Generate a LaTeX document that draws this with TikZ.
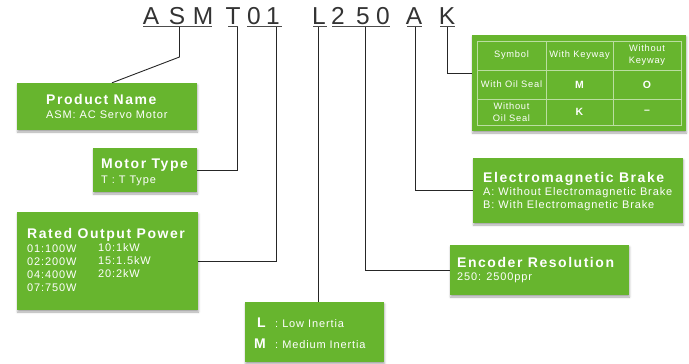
\documentclass[tikz,border=0pt]{standalone}
\usepackage{fontspec}
\setmainfont{Liberation Sans}
\newfontfamily\titlefont[LetterSpace=11]{Liberation Sans}
\newfontfamily\subfont[LetterSpace=8]{Liberation Sans}
\usetikzlibrary{shadows.blur}
\definecolor{boxgreen}{RGB}{103,181,46}
\tikzset{
  gbox/.style={fill=boxgreen, inner sep=0pt,
    blur shadow={shadow xshift=0.5pt, shadow yshift=-2pt, shadow blur radius=2pt, shadow opacity=35}},
  ttl/.style={text=white, anchor=base west, inner sep=0pt, font=\titlefont\bfseries\fontsize{14}{16}\selectfont},
  sub/.style={text=white, anchor=base west, inner sep=0pt, font=\subfont\fontsize{11}{12}\selectfont},
  code/.style={anchor=base, inner sep=0pt, text=black!80, font=\fontsize{24.5}{26}\selectfont},
  conn/.style={line width=0.9pt, black!85},
  uline/.style={line width=1.2pt, black!70},
  cell/.style={text=white, inner sep=0pt, align=center, font=\subfont\fontsize{9.3}{12}\selectfont},
  mark cell/.style={text=white, inner sep=0pt, font=\bfseries\fontsize{10.5}{12}\selectfont},
  tgrid/.style={white!55!boxgreen, line width=0.7pt}
}
\begin{document}
\begin{tikzpicture}[x=1pt,y=-1pt]
\useasboundingbox (0,0) rectangle (689,364);

% model code
\foreach \ch/\px [count=\i] in {A/151,S/177,M/203,T/233,0/254,1/273,L/319,2/338,5/363,0/383,A/414,K/447}
  \node[code] (c\i) at (\px,24) {\ch};
\draw[uline] (143,26.5) -- (212,26.5);
\draw[uline] (228,26.5) -- (238,26.5);
\draw[uline] (247,26.5) -- (282,26.5);
\draw[uline] (313,26.5) -- (327,26.5);
\draw[uline] (332,26.5) -- (390,26.5);
\draw[uline] (407,26.5) -- (422,26.5);
\draw[uline] (440,26.5) -- (455,26.5);

\coordinate (uASM) at (179.5,27);
\coordinate (kASM) at (179.5,57);
\coordinate (uT) at (237,27);
\coordinate (u01) at (276,27);
\coordinate (uL) at (318,27);
\coordinate (u250) at (365,27);
\coordinate (uA) at (415,27);
\coordinate (uK) at (447,27);

% boxes
\node[gbox, minimum width=180pt, minimum height=47pt] (pname) at (107,106.5) {};
\node[gbox, minimum width=104pt, minimum height=44pt] (mtype) at (145,170) {};
\node[gbox, minimum width=181pt, minimum height=98pt] (rated) at (107.5,261) {};
\node[gbox, minimum width=139pt, minimum height=60pt] (inertia) at (314.5,332) {};
\node[gbox, minimum width=179pt, minimum height=50pt] (enc) at (539.5,270) {};
\node[gbox, minimum width=210pt, minimum height=65pt] (brake) at (578,190.5) {};
\node[gbox, minimum width=214pt, minimum height=96pt] (tbl) at (579,83) {};

% connectors
\draw[conn] (uASM) -- (kASM) -- ([xshift=5pt]pname.north);
\draw[conn] (uT) |- (mtype.east);
\draw[conn] (u01) |- (rated.east);
\draw[conn] (uL) -- (uL |- inertia.north);
\draw[conn] (u250) |- (enc.west);
\draw[conn] (uA) |- (brake.west);
\draw[conn] (uK) |- ([yshift=10pt]tbl.west);

% texts
\node[ttl] (pnameT) at (46,104) {Product Name};
\node[sub] (pnameS) at (46,118) {ASM: AC Servo Motor};

\node[ttl] (mtypeT) at (101,168) {Motor Type};
\node[sub] (mtypeS) at (101,183) {T : T Type};

\node[ttl] (ratedT) at (27,238) {Rated Output Power};
\node[sub] (p1) at (27,252) {01:100W};
\node[sub] (p2) at (27,265) {02:200W};
\node[sub] (p3) at (27,278) {04:400W};
\node[sub] (p4) at (27,291) {07:750W};
\node[sub] (p5) at (98,251) {10:1kW};
\node[sub] (p6) at (98,264) {15:1.5kW};
\node[sub] (p7) at (98,277) {20:2kW};

\node[ttl, font=\bfseries\fontsize{14}{15}\selectfont] (inL) at (257,327) {L};
\node[sub, font=\subfont\fontsize{11}{12}\selectfont] (inLs) at (275,327) {:\hspace{4pt}Low Inertia};
\node[ttl, font=\bfseries\fontsize{14}{15}\selectfont] (inM) at (254,348) {M};
\node[sub, font=\subfont\fontsize{11}{12}\selectfont] (inMs) at (275,348) {:\hspace{4pt}Medium Inertia};

\node[ttl] (encT) at (457,267) {Encoder Resolution};
\node[sub] (encS) at (457,280) {250: 2500ppr};

\node[ttl] (brakeT) at (483,182) {Electromagnetic Brake};
\node[sub] (brakeA) at (483,195) {A: Without Electromagnetic Brake};
\node[sub] (brakeB) at (483,208) {B: With Electromagnetic Brake};

% option table
\draw[tgrid] (477,41) rectangle (681,125);
\draw[tgrid] (546,41) -- (546,125) (613,41) -- (613,125);
\draw[tgrid] (477,70) -- (681,70) (477,99) -- (681,99);
\node[cell] (hSym) at (511.5,55.5) {Symbol};
\node[cell] (hKey) at (579.5,55.5) {With Keyway};
\node[cell] (hNoKey) at (647,55.5) {Without\\Keyway};
\node[cell] (rSeal) at (511.5,84.5) {With Oil Seal};
\node[mark cell] (mM) at (579.5,84.5) {M};
\node[mark cell] (mO) at (647,84.5) {O};
\node[cell] (rNoSeal) at (511.5,112) {Without\\Oil Seal};
\node[mark cell] (mK) at (579.5,112) {K};
\node[mark cell] (mNone) at (647,112) {--};
\end{tikzpicture}
\end{document}
